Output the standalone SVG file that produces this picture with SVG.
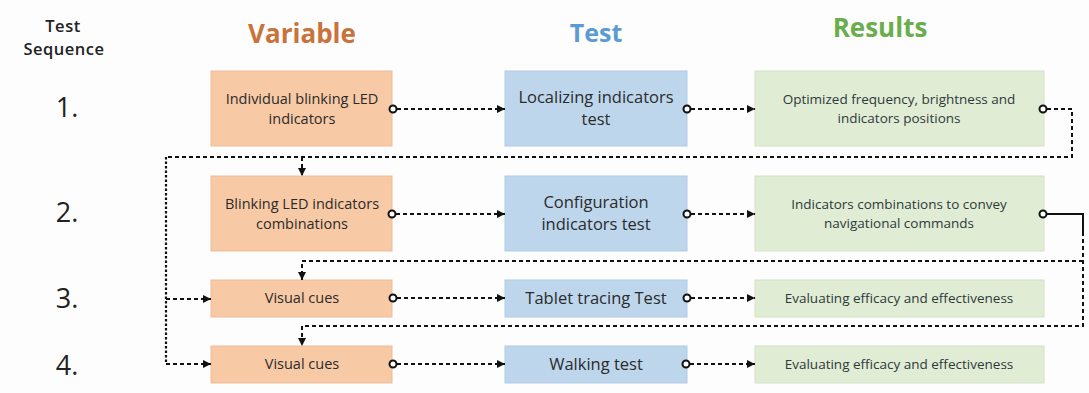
<svg xmlns="http://www.w3.org/2000/svg" width="1089" height="393" viewBox="0 0 1089 393">
  <style>
    .hdr { font-family: "Open Sans", "Liberation Sans", sans-serif; font-weight: bold; text-anchor: middle; }
    .seq { font-family: "Open Sans", "Liberation Sans", sans-serif; fill: #222; text-anchor: middle; }
    .lbl { font-family: "Open Sans", "Liberation Sans", sans-serif; fill: #2b2b2b; text-anchor: middle; }
    .v { font-size: 14.5px; }
    .t { font-size: 16.5px; }
    .r { font-size: 13.5px; fill: #2d3a3a; }
    .var { fill: #f8c9a5; stroke: #efbd98; stroke-width: 1; }
    .tst { fill: #bdd6ec; stroke: #b0cbe3; stroke-width: 1; }
    .res { fill: #e1ecd5; stroke: #d4e2c6; stroke-width: 1; }
    .dash { fill: none; stroke: #111; stroke-width: 2; stroke-dasharray: 4 3; }
    .dot { fill: none; stroke: #111; stroke-width: 2.2; stroke-dasharray: 2.5 2; }
    .solid { fill: none; stroke: #111; stroke-width: 2; }
    .end { fill: #fff; stroke: #111; stroke-width: 2; }
  </style>
  <defs>
    <marker id="arrow" viewBox="0 0 8 8" refX="8" refY="4" markerWidth="8" markerHeight="8" markerUnits="userSpaceOnUse" orient="auto">
      <path d="M0,0 L8,4 L0,8 z" fill="#111"/>
    </marker>
  </defs>

  <rect width="1089" height="393" fill="#fdfdfe"/>

  <!-- column headings -->
  <g id="headings">
    <text class="seq" x="63" y="32" font-size="16.5" font-weight="600" letter-spacing="0.5">Test</text>
    <text class="seq" x="64" y="55" font-size="16.5" font-weight="600" letter-spacing="0.5">Sequence</text>
    <text class="hdr" x="302" y="43" font-size="26" fill="#c8733b">Variable</text>
    <text class="hdr" x="596" y="42" font-size="25" fill="#5b9bd5">Test</text>
    <text class="hdr" x="880" y="37" font-size="26" fill="#6aad4c">Results</text>
  </g>

  <!-- sequence numbers -->
  <g id="numbers">
    <text class="seq" x="67" y="117" font-size="27">1.</text>
    <text class="seq" x="67" y="222" font-size="27">2.</text>
    <text class="seq" x="67" y="308" font-size="27">3.</text>
    <text class="seq" x="67" y="375" font-size="27">4.</text>
  </g>

  <!-- row 1 -->
  <g id="var1">
    <rect class="var" x="211" y="71" width="181" height="75"/>
    <text class="lbl v" x="302" y="104">Individual blinking LED</text>
    <text class="lbl v" x="302" y="124">indicators</text>
  </g>
  <g id="test1">
    <rect class="tst" x="505" y="71" width="182" height="75"/>
    <text class="lbl t" x="596" y="103">Localizing indicators</text>
    <text class="lbl t" x="596" y="125">test</text>
  </g>
  <g id="res1">
    <rect class="res" x="755" y="71" width="289" height="75"/>
    <text class="lbl r" x="899" y="104">Optimized frequency, brightness and</text>
    <text class="lbl r" x="899" y="123">indicators positions</text>
  </g>

  <!-- row 2 -->
  <g id="var2">
    <rect class="var" x="211" y="176" width="181" height="75"/>
    <text class="lbl v" x="302" y="209">Blinking LED indicators</text>
    <text class="lbl v" x="302" y="229">combinations</text>
  </g>
  <g id="test2">
    <rect class="tst" x="505" y="176" width="182" height="75"/>
    <text class="lbl t" x="596" y="208">Configuration</text>
    <text class="lbl t" x="596" y="230">indicators test</text>
  </g>
  <g id="res2">
    <rect class="res" x="755" y="176" width="289" height="75"/>
    <text class="lbl r" x="899" y="209">Indicators combinations to convey</text>
    <text class="lbl r" x="899" y="228">navigational commands</text>
  </g>

  <!-- row 3 -->
  <g id="var3">
    <rect class="var" x="211" y="280" width="181" height="37"/>
    <text class="lbl v" x="302" y="303">Visual cues</text>
  </g>
  <g id="test3">
    <rect class="tst" x="505" y="280" width="182" height="37"/>
    <text class="lbl t" x="596" y="304">Tablet tracing Test</text>
  </g>
  <g id="res3">
    <rect class="res" x="755" y="280" width="289" height="37"/>
    <text class="lbl r" x="899" y="303">Evaluating efficacy and effectiveness</text>
  </g>

  <!-- row 4 -->
  <g id="var4">
    <rect class="var" x="211" y="346" width="181" height="37"/>
    <text class="lbl v" x="302" y="369">Visual cues</text>
  </g>
  <g id="test4">
    <rect class="tst" x="505" y="346" width="182" height="37"/>
    <text class="lbl t" x="596" y="370">Walking test</text>
  </g>
  <g id="res4">
    <rect class="res" x="755" y="346" width="289" height="37"/>
    <text class="lbl r" x="899" y="369">Evaluating efficacy and effectiveness</text>
  </g>

  <!-- connectors -->
  <g id="connectors">
    <!-- row 1 -->
    <path class="dash" d="M397,109 H505" marker-end="url(#arrow)"/>
    <path class="dash" d="M691,109 H755" marker-end="url(#arrow)"/>
    <path class="dash" d="M1047,109 H1072 V157 H166"/>
    <path class="dash" d="M302,157 V176" marker-end="url(#arrow)"/>
    <path class="dot" d="M166,157 V364"/>
    <path class="dash" d="M166,299 H211" marker-end="url(#arrow)"/>
    <path class="dash" d="M166,364 H211" marker-end="url(#arrow)"/>
    <!-- row 2 -->
    <path class="dash" d="M396,214 H505" marker-end="url(#arrow)"/>
    <path class="dash" d="M691,214 H755" marker-end="url(#arrow)"/>
    <path class="solid" d="M1047,214 H1083 V232"/>
    <path class="dash" d="M1083,232 V326 H302"/>
    <path class="dash" d="M302,326 V346" marker-end="url(#arrow)"/>
    <path class="dash" d="M1083,261 H302 V280" marker-end="url(#arrow)"/>
    <!-- row 3 -->
    <path class="dash" d="M397,298 H505" marker-end="url(#arrow)"/>
    <path class="dash" d="M691,298 H755" marker-end="url(#arrow)"/>
    <!-- row 4 -->
    <path class="dash" d="M397,364 H505" marker-end="url(#arrow)"/>
    <path class="dash" d="M690,364 H755" marker-end="url(#arrow)"/>
    <!-- start points -->
    <circle class="end" cx="393" cy="109" r="3.5"/>
    <circle class="end" cx="687" cy="109" r="3.5"/>
    <circle class="end" cx="1043" cy="109" r="3.5"/>
    <circle class="end" cx="392" cy="214" r="3.5"/>
    <circle class="end" cx="687" cy="214" r="3.5"/>
    <circle class="end" cx="1043" cy="214" r="3.5"/>
    <circle class="end" cx="393" cy="298" r="3.5"/>
    <circle class="end" cx="687" cy="298" r="3.5"/>
    <circle class="end" cx="393" cy="364" r="3.5"/>
    <circle class="end" cx="686" cy="364" r="3.5"/>
  </g>
</svg>
